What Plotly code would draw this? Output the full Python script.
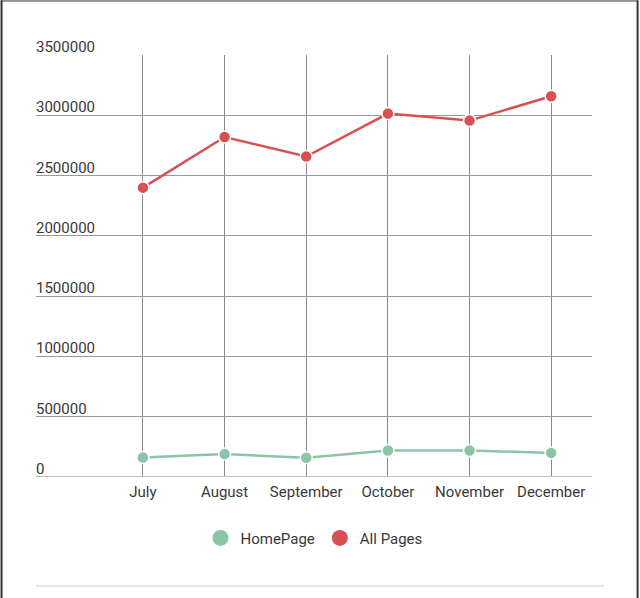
import plotly.graph_objects as go

# Monthly page views
months = ['July', 'August', 'September', 'October', 'November', 'December']
homepage = [162000, 190000, 159000, 220000, 220000, 200000]
all_pages = [2400000, 2820000, 2658000, 3014000, 2956000, 3158000]
y_ticks = [0, 500000, 1000000, 1500000, 2000000, 2500000, 3000000, 3500000]

GREEN = '#8cc5a6'
RED = '#d95052'
FONT = 'Roboto'
TEXT = '#383838'

fig = go.Figure()

# data lines (legend handled by marker-only traces below)
for name, vals, color in [('HomePage', homepage, GREEN), ('All Pages', all_pages, RED)]:
    fig.add_trace(go.Scatter(
        x=months, y=vals, mode='lines+markers', name=name,
        line=dict(color=color, width=2.5),
        marker=dict(size=12, color=color, line=dict(color='white', width=1.5)),
        showlegend=False,
    ))

for name, color in [('HomePage', GREEN), ('All Pages', RED)]:
    fig.add_trace(go.Scatter(
        x=[None], y=[None], mode='markers', name=name,
        marker=dict(size=16, color=color),
    ))

fig.update_xaxes(
    type='category', range=[-1.31, 5.5],
    showgrid=True, gridcolor='#8a8a8a', gridwidth=1,
    showline=False, zeroline=False, ticks='', ticklabelstandoff=4,
    tickfont=dict(family=FONT, size=15, color=TEXT),
)
fig.update_yaxes(
    range=[0, 3500000], tickvals=y_ticks, showticklabels=False,
    showgrid=True, gridcolor='#9a9a9a', gridwidth=1,
    zeroline=False, showline=False,
)

# y tick labels sit above their grid lines
annotations = [
    dict(xref='paper', yref='y', x=0, y=v, text=str(v), showarrow=False,
         xanchor='left', yanchor='bottom', xshift=-2, yshift=-3,
         font=dict(family=FONT, size=15, color=TEXT))
    for v in y_ticks
]

fig.update_layout(
    width=640, height=598,
    margin=dict(l=36, r=48, t=55, b=121),
    plot_bgcolor='white', paper_bgcolor='white',
    font=dict(family=FONT, size=15, color=TEXT),
    legend=dict(orientation='h', x=0.5, xanchor='center', y=-0.145, yanchor='middle',
                font=dict(family=FONT, size=15, color=TEXT)),
    annotations=annotations,
    shapes=[
        # baseline at zero
        dict(type='line', xref='paper', yref='y', x0=0, x1=1, y0=0, y1=0,
             line=dict(color='#bdbdbd', width=2)),
        # separator below legend
        dict(type='line', xref='paper', yref='paper', x0=0, x1=1.0216, y0=-0.258, y1=-0.258,
             line=dict(color='#e5e5e5', width=2)),
        # outer frame
        dict(type='line', xref='paper', yref='paper', x0=-0.062, x1=-0.062, y0=-0.3, y1=1.13,
             line=dict(color='#333', width=2)),
        dict(type='line', xref='paper', yref='paper', x0=1.082, x1=1.082, y0=-0.3, y1=1.13,
             line=dict(color='#333', width=2)),
        dict(type='line', xref='paper', yref='paper', x0=-0.063, x1=1.082, y0=1.128, y1=1.128,
             line=dict(color='#333', width=1)),
    ],
)

fig.write_html('out.html', config={'displayModeBar': False},
               post_script="document.body.style.margin='0';")
